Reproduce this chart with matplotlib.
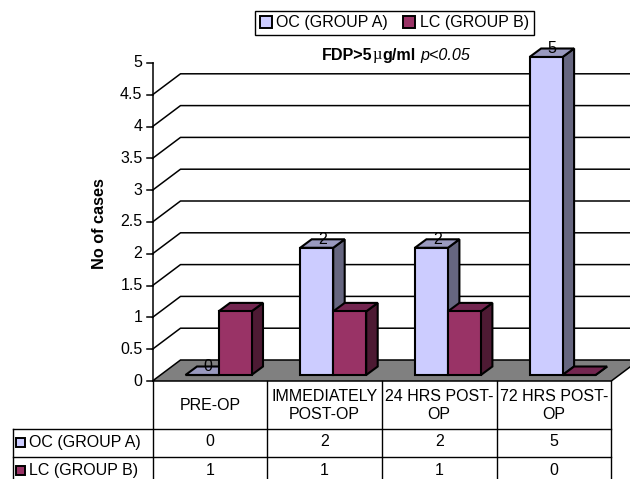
import matplotlib
matplotlib.use("Agg")
from matplotlib import pyplot as plt
from matplotlib.patches import Polygon, Patch, Rectangle

plt.rcParams['font.family'] = ['Liberation Sans', 'DejaVu Sans']

# --------------- Data ---------------
categories = ["PRE-OP", "IMMEDIATELY\nPOST-OP", "24 HRS POST-\nOP", "72 HRS POST-\nOP"]
series_names = ["OC (GROUP A)", "LC (GROUP B)"]
oc_values = [0, 2, 2, 5]
lc_values = [1, 1, 1, 0]
y_ticks = [0, 0.5, 1, 1.5, 2, 2.5, 3, 3.5, 4, 4.5, 5]
y_tick_labels = ["0", "0.5", "1", "1.5", "2", "2.5", "3", "3.5", "4", "4.5", "5"]

# --------------- Colours: front, side, top ---------------
oc_cols = ("#CCCCFF", "#666680", "#9999BF")
lc_cols = ("#993366", "#4D1A33", "#732650")

FS = 11.5

# --------------- Scales ---------------
W, H = 630, 479
CAT_PX = 114.7  # pixels per category
VAL_PX = 63.6   # pixels per y unit
X0_PX, Y0_PX = 152.5, 381.0

fig = plt.figure(figsize=(W/100, H/100), dpi=100)
ax = fig.add_axes([0, 0, 1, 1])
ax.set_xlim(-X0_PX/CAT_PX, (W-X0_PX)/CAT_PX)
ax.set_ylim((Y0_PX-H)/VAL_PX, Y0_PX/VAL_PX)
ax.axis('off')

def dx(px):
    return px/CAT_PX

def dy(px):
    return px/VAL_PX

# --------------- Back wall, floor and value axis ---------------
wall_dx, wall_dy = dx(28), dy(21)
right = 4 + dx(40)
for v in y_ticks[1:-1]:  # nothing drawn along the top of the wall
    ax.plot([0, wall_dx, right], [v, v+wall_dy, v+wall_dy], color='black', lw=1.1, zorder=1)

ax.add_patch(Polygon([(0, 0), (4, 0), (4+wall_dx, wall_dy), (wall_dx, wall_dy)],
                     closed=True, fc='#808080', ec='black', lw=1.1, zorder=2))
ax.plot([0, 0], [0, 5], color='black', lw=1.1, zorder=3)

for v, lab in zip(y_ticks, y_tick_labels):
    ax.plot([-dx(6), 0], [v, v], color='black', lw=1.1, zorder=3)
    ax.text(-dx(10), v, lab, ha='right', va='center', fontsize=FS)

ax.text(-dx(53), 2.48, "No of cases", rotation=90, ha='center', va='center',
        fontsize=11.7, fontweight='bold')

# --------------- 3D looking bars ---------------
bar_w = dx(33)
bar_start = dx(33)
depth_x, depth_y = dx(11.5), dy(8.5)
base = dy(6)

def draw_bar(left, value, cols, z):
    bottom, top = base, base+value
    right_edge = left+bar_w
    style = dict(closed=True, ec='black', lw=1.5, joinstyle='miter', zorder=z)
    ax.add_patch(Polygon([(right_edge, bottom), (right_edge+depth_x, bottom+depth_y),
                          (right_edge+depth_x, top+depth_y), (right_edge, top)], fc=cols[1], **style))
    ax.add_patch(Polygon([(left, top), (right_edge, top), (right_edge+depth_x, top+depth_y),
                          (left+depth_x, top+depth_y)], fc=cols[2], **style))
    ax.add_patch(Polygon([(left, bottom), (right_edge, bottom), (right_edge, top), (left, top)],
                         fc=cols[0], **style))

for i in range(len(categories)):
    oc_left = i+bar_start
    draw_bar(oc_left, oc_values[i], oc_cols, 4)
    draw_bar(oc_left+bar_w, lc_values[i], lc_cols, 5)
    ax.text(oc_left+bar_w/2+depth_x/2, base+oc_values[i]+depth_y/2+dy(4), str(oc_values[i]),
            ha='center', va='center', fontsize=FS, zorder=6)

# --------------- Data table under the chart ---------------
row_top = 0
row_head = dy(-48)
row_a = dy(-75.7)
row_b = dy(-103)
row_end = dy(-120)
left_col = dx(13)-X0_PX/CAT_PX

for i in range(len(categories)+1):
    ax.plot([i, i], [row_top, row_end], color='black', lw=1.0, zorder=3)
for y in (row_head, row_a, row_b):
    ax.plot([left_col, 4], [y, y], color='black', lw=1.0, zorder=3)
ax.plot([left_col, left_col], [row_head, row_end], color='black', lw=1.0, zorder=3)

for i, cat in enumerate(categories):
    ax.text(i+0.5, (row_top+row_head)/2+dy(-0.5), cat, ha='center', va='center', fontsize=FS,
            linespacing=1.25)
    ax.text(i+0.5, row_head+dy(-13), str(oc_values[i]), ha='center', va='center', fontsize=FS)
    ax.text(i+0.5, row_a+dy(-13.5), str(lc_values[i]), ha='center', va='center', fontsize=FS)

key_w, key_h = dx(9), dy(9)
for y, name, cols in ((row_head+dy(-13.8), series_names[0], oc_cols),
                      (row_a+dy(-14), series_names[1], lc_cols)):
    ax.add_patch(Rectangle((left_col+dx(3.5), y-key_h/2), key_w, key_h, fc=cols[0], ec='black', lw=1.4, zorder=4))
    ax.text(left_col+dx(16.5), y, name, ha='left', va='center', fontsize=FS)

# --------------- Legend ---------------
handles = [Patch(fc=oc_cols[0], ec='black', lw=1.4, label=series_names[0]),
           Patch(fc=lc_cols[0], ec='black', lw=1.4, label=series_names[1])]
ax.legend(handles=handles, ncol=2, loc='center', bbox_to_anchor=(394.5/W, 1-23/H),
          fontsize=FS, fancybox=False, framealpha=1, edgecolor='black',
          handlelength=0.75, handleheight=0.75, handletextpad=0.3, columnspacing=0.95,
          borderpad=0.3, borderaxespad=0)

# --------------- Heading, mixed font runs ---------------
t = ax.text(dx(322)-X0_PX/CAT_PX, dy(Y0_PX-60), "FDP>5", fontsize=11.6, fontweight='bold', ha='left', va='baseline')
t = ax.annotate("\u00b5", xy=(1, 0), xycoords=t, xytext=(0.2, 0), textcoords='offset points',
                fontsize=11.8, family='Liberation Serif', ha='left', va='bottom')
t = ax.annotate("g/ml", xy=(1, 0), xycoords=t, xytext=(0.2, 0), textcoords='offset points',
                fontsize=11.6, fontweight='bold', ha='left', va='bottom')
ax.annotate("p<0.05", xy=(1, 0), xycoords=t, xytext=(3, 0), textcoords='offset points',
            fontsize=11.6, fontstyle='italic', ha='left', va='bottom')

fig.savefig("out.png", dpi=100, facecolor='white')
